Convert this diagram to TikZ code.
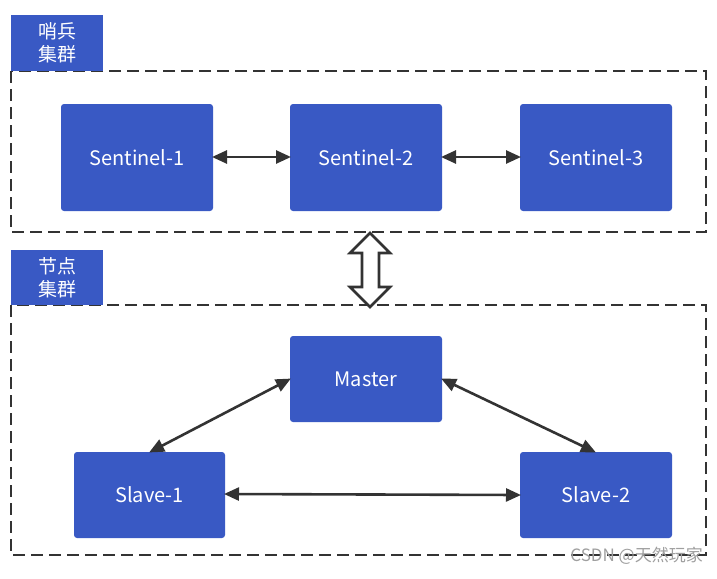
\documentclass[tikz,border=0pt]{standalone}
\usepackage{fontspec}
\setmainfont{Noto Sans CJK SC}
\usetikzlibrary{arrows.meta}
\definecolor{boxblue}{RGB}{57,89,196}
\definecolor{linegray}{RGB}{51,51,51}
\begin{document}
\begin{tikzpicture}[x=1pt,y=-1pt,
  blk/.style={fill=boxblue,draw=none,rounded corners=3pt},
  lbl/.style={text=white,font=\fontsize{20}{22}\selectfont},
  grp/.style={draw=linegray,line width=2.4pt,dash pattern=on 12pt off 6pt},
  tag/.style={fill=boxblue,draw=none,text=white,font=\fontsize{19}{23}\selectfont,align=center,inner sep=0pt},
  conn/.style={draw=linegray,line width=2.6pt,{Triangle[length=15pt,width=13pt]}-{Triangle[length=15pt,width=13pt]},shorten <=-1pt,shorten >=-1pt}]
\useasboundingbox (0,0) rectangle (717,578);
% group frames
\draw[grp] (11,71) rectangle (706,232);
\draw[grp] (11,305) rectangle (706,555);
% tags
\node[tag,minimum width=92pt,minimum height=56pt] (tagS) at (57,43) {哨兵\\集群};
\node[tag,minimum width=92pt,minimum height=55pt] (tagN) at (57,277.5) {节点\\集群};
% sentinel boxes
\path[blk] (61,104) rectangle (213,211);
\node[lbl] (s1) at (137,157.5) {Sentinel-1};
\path[blk] (290,104) rectangle (442,211);
\node[lbl] (s2) at (366,157.5) {Sentinel-2};
\path[blk] (520,104) rectangle (672,211);
\node[lbl] (s3) at (596,157.5) {Sentinel-3};
\coordinate (s1r) at (213,157);
\coordinate (s2l) at (290,157);
\coordinate (s2r) at (442,157);
\coordinate (s3l) at (520,157);
\draw[conn] (s1r) -- (s2l);
\draw[conn] (s2r) -- (s3l);
% node boxes
\path[blk] (290,336) rectangle (442,422);
\node[lbl] (m) at (366,379) {Master};
\path[blk] (74,452) rectangle (225,538);
\node[lbl] (sl1) at (149.5,495) {Slave-1};
\path[blk] (520,452) rectangle (672,538);
\node[lbl] (sl2) at (596,495) {Slave-2};
\coordinate (ml) at (290,379);
\coordinate (mr) at (442,379);
\coordinate (sl1t) at (150,452);
\coordinate (sl2t) at (595,452);
\coordinate (sl1r) at (225,494);
\coordinate (sl2l) at (520,495);
\draw[conn] (ml) -- (sl1t);
\draw[conn] (mr) -- (sl2t);
\draw[conn] (sl1r) -- (sl2l);
% big double arrow
\draw[linegray,line width=2.6pt,fill=white,line join=miter]
  (370,233) -- (390,253) -- (379,253) -- (379,287) -- (390,287) -- (370,307)
  -- (350,287) -- (362,287) -- (362,253) -- (350,253) -- cycle;
% watermark
\node[text=gray!75,font=\fontsize{17}{19}\selectfont,anchor=east,inner sep=0pt] (wm) at (703,556) {CSDN @天然玩家};
\end{tikzpicture}
\end{document}
